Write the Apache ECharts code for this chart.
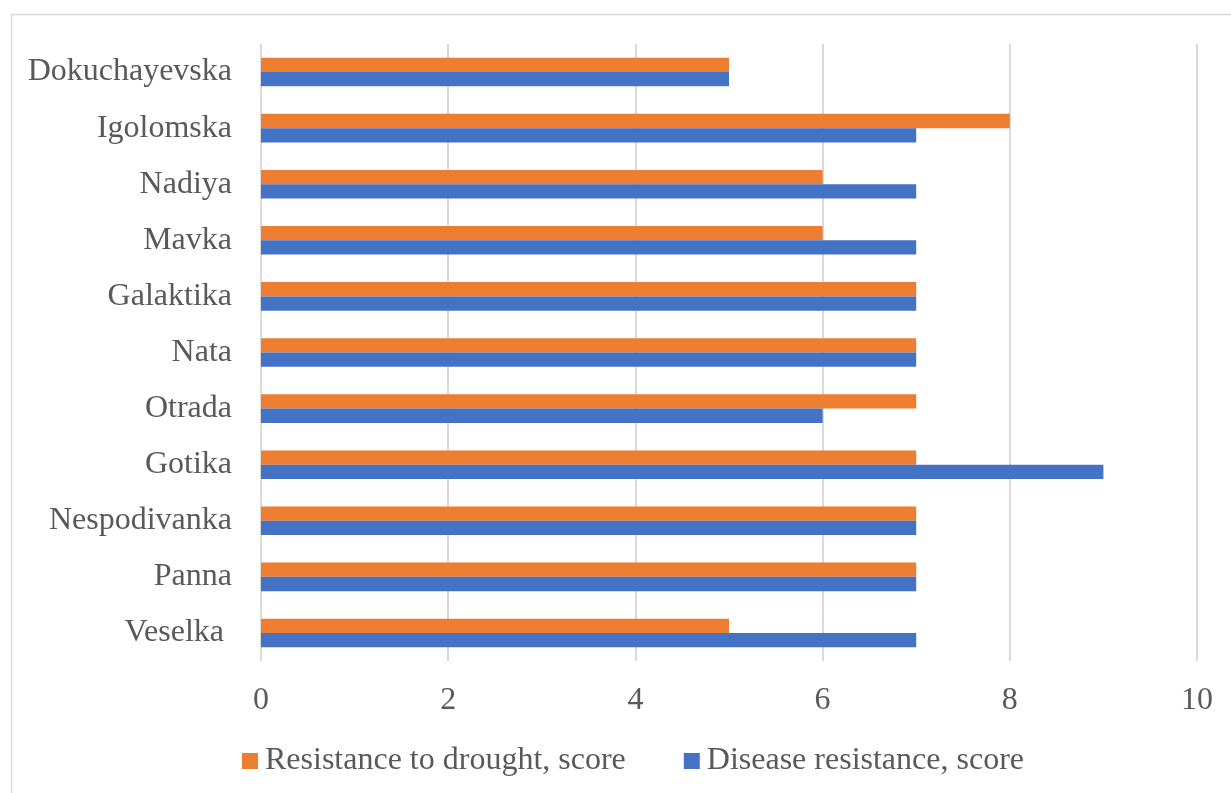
<!DOCTYPE html>
<html>
<head>
<meta charset="utf-8">
<style>
  html, body { margin: 0; padding: 0; background: #ffffff; }
  #chart { width: 1231px; height: 793px; }
</style>
<script src="https://cdn.jsdelivr.net/npm/echarts@6/dist/echarts.min.js"></script>
</head>
<body>
<div id="chart"></div>
<script>
// Varieties, listed bottom to top as they appear on the category axis
const varieties = ['Veselka ', 'Panna', 'Nespodivanka', 'Gotika', 'Otrada', 'Nata',
                   'Galaktika', 'Mavka', 'Nadiya', 'Igolomska', 'Dokuchayevska'];
const droughtScores = [5, 7, 7, 7, 7, 7, 7, 6, 6, 8, 5];
const diseaseScores = [7, 7, 7, 9, 6, 7, 7, 7, 7, 7, 5];
const seriesNames = ['Resistance to drought, score', 'Disease resistance, score'];
const valueTicks = [0, 2, 4, 6, 8, 10];

const FONT = '"Liberation Serif", "Times New Roman", serif';
const TEXT = '#595959';
const GRID = '#d9d9d9';
const FONT_SIZE = 32;

const chart = echarts.init(document.getElementById('chart'));
chart.setOption({
  animation: false,
  backgroundColor: '#ffffff',
  textStyle: { fontFamily: FONT },
  graphic: [{
    type: 'rect',
    shape: { x: 11.5, y: 14.5, width: 1260, height: 820 },
    style: { fill: 'none', stroke: GRID, lineWidth: 1.5 },
    silent: true, z: -1
  }],
  grid: { left: 261, right: 34, top: 44, bottom: 132 },
  legend: {
    data: seriesNames,
    left: 242,
    top: 745,
    padding: 0,
    itemWidth: 16,
    itemHeight: 16,
    itemGap: 58,
    icon: 'rect',
    textStyle: { fontFamily: FONT, fontSize: FONT_SIZE, color: TEXT, padding: [0, 0, 0, 2] }
  },
  xAxis: {
    type: 'value',
    min: valueTicks[0],
    max: valueTicks[valueTicks.length - 1],
    interval: 2,
    axisLine: { show: false },
    axisTick: { show: false },
    splitLine: { show: true, lineStyle: { color: GRID, width: 2 } },
    axisLabel: { fontFamily: FONT, fontSize: FONT_SIZE, color: TEXT, margin: 24 }
  },
  yAxis: {
    type: 'category',
    data: varieties,
    axisLine: { show: false },
    axisTick: { show: false },
    splitLine: { show: false },
    axisLabel: { fontFamily: FONT, fontSize: FONT_SIZE, color: TEXT, margin: 29 }
  },
  series: [
    {
      name: seriesNames[0],
      type: 'bar',
      data: droughtScores,
      itemStyle: { color: '#ED7D31' },
      barGap: '0%',
      barCategoryGap: '49%'
    },
    {
      name: seriesNames[1],
      type: 'bar',
      data: diseaseScores,
      itemStyle: { color: '#4472C4' },
      barGap: '0%',
      barCategoryGap: '49%'
    }
  ]
});
</script>
</body>
</html>
